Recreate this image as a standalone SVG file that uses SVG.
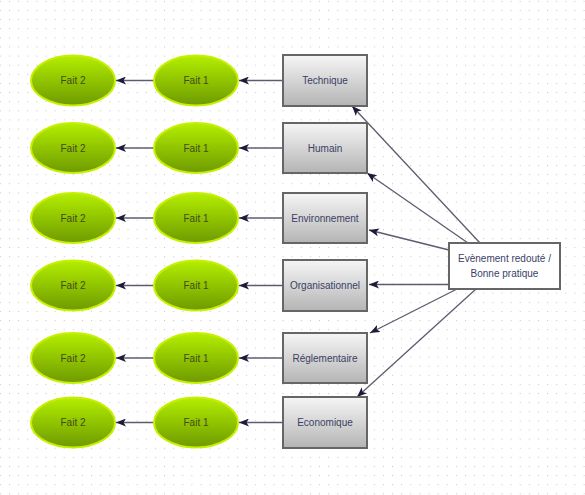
<svg xmlns="http://www.w3.org/2000/svg" width="585" height="495" viewBox="0 0 585 495">
<defs>
<pattern id="dots" x="9" y="10" width="9.12" height="9.12" patternUnits="userSpaceOnUse">
<rect x="0" y="0" width="1" height="1" fill="#c4c4c4"/>
</pattern>
<linearGradient id="gGreen" x1="0" y1="0" x2="0" y2="1">
<stop offset="0" stop-color="#b4ee00"/>
<stop offset="1" stop-color="#6e9a00"/>
</linearGradient>
<linearGradient id="gGray" x1="0" y1="0" x2="0" y2="1">
<stop offset="0" stop-color="#f6f6f6"/>
<stop offset="1" stop-color="#b4b4b4"/>
</linearGradient>
<marker id="arr" viewBox="0 0 10 8" refX="10" refY="4" markerWidth="10" markerHeight="8" markerUnits="userSpaceOnUse" orient="auto">
<path d="M0,0 L10,4 L0,8 L2.5,4 Z" fill="#1c1c3a"/>
</marker>
<style>
.fait ellipse{fill:url(#gGreen);stroke:#c6f000;stroke-width:2}
.fait text{font-family:"Liberation Sans",Arial,sans-serif;font-size:10px;fill:#3f4a1c;text-anchor:middle}
.cat rect{fill:url(#gGray);stroke:#666;stroke-width:2}
.cat text,.evt text{font-family:"Liberation Sans",Arial,sans-serif;font-size:10px;fill:#3a3f66;text-anchor:middle}
.evt rect{fill:#fff;stroke:#666;stroke-width:2}
#connectors line{stroke:#5c5c70;stroke-width:1.3;marker-end:url(#arr)}
</style>
</defs>
<rect width="585" height="495" fill="#fff"/>
<rect width="585" height="495" fill="url(#dots)"/>

<g id="connectors">
<line x1="283" y1="80.5" x2="239" y2="80.5"/>
<line x1="154" y1="80.5" x2="116" y2="80.5"/>
<line x1="283" y1="148" x2="239" y2="148"/>
<line x1="154" y1="148" x2="116" y2="148"/>
<line x1="283" y1="218" x2="239" y2="218"/>
<line x1="154" y1="218" x2="116" y2="218"/>
<line x1="283" y1="285.5" x2="239" y2="285.5"/>
<line x1="154" y1="285.5" x2="116" y2="285.5"/>
<line x1="283" y1="358" x2="239" y2="358"/>
<line x1="154" y1="358" x2="116" y2="358"/>
<line x1="283" y1="422.5" x2="239" y2="422.5"/>
<line x1="154" y1="422.5" x2="116" y2="422.5"/>
<line x1="480" y1="243" x2="352" y2="106"/>
<line x1="468" y1="243" x2="367" y2="173"/>
<line x1="449" y1="250" x2="369" y2="230"/>
<line x1="449" y1="284.5" x2="369" y2="284.5"/>
<line x1="457" y1="289" x2="370" y2="333"/>
<line x1="476" y1="289" x2="357" y2="397"/>
</g>

<g id="tech" class="cat"><rect x="283" y="55" width="84" height="51"/><text x="325" y="84">Technique</text></g>
<g id="humain" class="cat"><rect x="283" y="123" width="84" height="50"/><text x="325" y="151.5">Humain</text></g>
<g id="env" class="cat"><rect x="283" y="193" width="84" height="50"/><text x="325" y="221.5">Environnement</text></g>
<g id="org" class="cat"><rect x="283" y="260" width="84" height="51"/><text x="325" y="289">Organisationnel</text></g>
<g id="regl" class="cat"><rect x="283" y="333" width="84" height="50"/><text x="325" y="361.5">Réglementaire</text></g>
<g id="eco" class="cat"><rect x="283" y="397" width="84" height="51"/><text x="325" y="426">Economique</text></g>

<g id="evt" class="evt"><rect x="449" y="243" width="111" height="46"/><text x="504.5" y="262">Evènement redouté /</text><text x="504.5" y="277">Bonne pratique</text></g>

<g id="f1a" class="fait"><ellipse cx="196" cy="80.5" rx="42" ry="25"/><text x="196" y="84">Fait 1</text></g>
<g id="f2a" class="fait"><ellipse cx="73" cy="80.5" rx="42" ry="25"/><text x="73" y="84">Fait 2</text></g>
<g id="f1b" class="fait"><ellipse cx="196" cy="148" rx="42" ry="25"/><text x="196" y="151.5">Fait 1</text></g>
<g id="f2b" class="fait"><ellipse cx="73" cy="148" rx="42" ry="25"/><text x="73" y="151.5">Fait 2</text></g>
<g id="f1c" class="fait"><ellipse cx="196" cy="218" rx="42" ry="25"/><text x="196" y="221.5">Fait 1</text></g>
<g id="f2c" class="fait"><ellipse cx="73" cy="218" rx="42" ry="25"/><text x="73" y="221.5">Fait 2</text></g>
<g id="f1d" class="fait"><ellipse cx="196" cy="285.5" rx="42" ry="25"/><text x="196" y="289">Fait 1</text></g>
<g id="f2d" class="fait"><ellipse cx="73" cy="285.5" rx="42" ry="25"/><text x="73" y="289">Fait 2</text></g>
<g id="f1e" class="fait"><ellipse cx="196" cy="358" rx="42" ry="25"/><text x="196" y="361.5">Fait 1</text></g>
<g id="f2e" class="fait"><ellipse cx="73" cy="358" rx="42" ry="25"/><text x="73" y="361.5">Fait 2</text></g>
<g id="f1f" class="fait"><ellipse cx="196" cy="422.5" rx="42" ry="25"/><text x="196" y="426">Fait 1</text></g>
<g id="f2f" class="fait"><ellipse cx="73" cy="422.5" rx="42" ry="25"/><text x="73" y="426">Fait 2</text></g>
</svg>
